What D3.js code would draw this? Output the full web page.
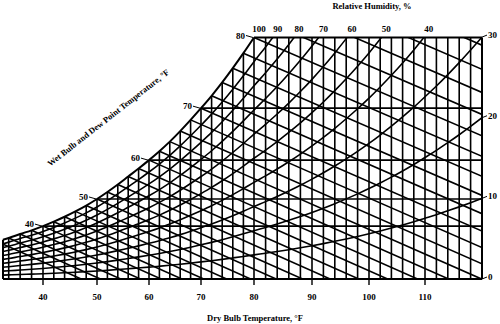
<!DOCTYPE html>
<html><head><meta charset="utf-8">
<script src="https://cdn.jsdelivr.net/npm/d3@7"></script>
<style>
body{margin:0;background:#fff}
svg{display:block}
text{font-family:"Liberation Serif","DejaVu Serif",serif;font-weight:bold;fill:#000}
</style>
</head><body><svg id="c" width="500" height="324"></svg>
<script>
// ---- data ----
const satTemps    = [32,34,36,38,40,42,44,46,48,50,52,54,56,58,60,62,64,66,68,70,72,74,76,78,80,82,84,86,88,90,92,94,96,98,100,102,104,106,108,110,112,114,116,118,120];
const satPressure = [0.160,0.175,0.192,0.208,0.226,0.245,0.266,0.289,0.314,0.342,0.372,0.404,0.438,0.472,0.508,0.546,0.587,0.632,0.680,0.730,0.783,0.840,0.901,0.965,1.032,1.102,1.175,1.253,1.335,1.422,1.513,1.610,1.712,1.819,1.932,2.051,2.176,2.308,2.447,2.596,2.749,2.912,3.082,3.261,3.446];
const dryBulbLines = [34,36,38,40,42,44,46,48,50,52,54,56,58,60,62,64,66,68,70,72,74,76,78,80,82,84,86,88,90,92,94,96,98,100,102,104,106,108,110,112,114,116,118];
const wetBulbTemps = [32,34,36,38,40,42,44,46,48,50,52,54,56,58,60,62,64,66,68,70,72,74,76,78,80,82,84,86,88];
const rhLevels = [90,80,70,60,50,40,30,20,10];
const dewPointLines = [40,50,60,70];
const dewPointLabels = [40,50,60,70,80];
const dryBulbTicks = [40,50,60,70,80,90,100,110];
const topRhLabels = [100,90,80,70,60,50,40];
const rightRhLabels = [30,20,10,0];
const chartMinT = 33, chartMaxT = 120, topPressure = 1.032;
const wetBulbSlope = 0.0105; // inHg per °F

// ---- scales ----
const x = d3.scaleLinear()
  .domain([33,40,50,60,70,80,90,100,110,120])
  .range([3,43,97,149,201,254,312,369,425,482]);
const y = d3.scaleLinear().domain([0, topPressure]).range([279, 37.5]);
const es = d3.scaleLinear().domain(satTemps).range(satPressure);
const tsat = d3.scaleLinear().domain(satPressure).range(satTemps);

const svg = d3.select("#c");
const line = d3.line().x(d=>x(d[0])).y(d=>y(d[1]));
const curve = d3.line().x(d=>x(d[0])).y(d=>y(d[1])).curve(d3.curveMonotoneX);

// saturation curve points
const satPts = [[chartMinT, es(chartMinT)]].concat(
  satTemps.filter(t=>t>chartMinT && t<=80).map(t=>[t, es(t)]));

// clip region
const clipPts = satPts.concat([[chartMaxT, topPressure],[chartMaxT,0],[chartMinT,0]]);
svg.append("clipPath").attr("id","area").append("path")
  .attr("d", line(clipPts)+"Z");

const g = svg.append("g").attr("clip-path","url(#area)")
  .attr("stroke","#000").attr("fill","none").attr("stroke-width",1.6);

// dry bulb verticals
g.selectAll(".db").data(dryBulbLines).join("line")
  .attr("x1",d=>x(d)).attr("x2",d=>x(d)).attr("y1",y(0)).attr("y2",y(topPressure));

// dew point horizontals
g.selectAll(".dp").data(dewPointLines).join("line")
  .attr("x1",x(chartMinT)).attr("x2",x(chartMaxT))
  .attr("y1",d=>y(es(d))).attr("y2",d=>y(es(d)));

// RH curves
const rhTemps = [chartMinT].concat(satTemps.filter(t=>t>chartMinT));
g.selectAll(".rh").data(rhLevels).join("path")
  .attr("d", r => curve(rhTemps.map(t=>[t, r/100*es(t)])));

// wet bulb lines
g.selectAll(".wb").data(wetBulbTemps).join("path")
  .attr("d", w => line([[w, es(w)], [chartMaxT, es(w) - wetBulbSlope*(chartMaxT-w)]]));

// boundary
const b = svg.append("g").attr("stroke","#000").attr("fill","none").attr("stroke-width",2);
b.append("path").attr("d", curve(satPts));
b.append("line").attr("x1",x(80)).attr("x2",x(chartMaxT)).attr("y1",y(topPressure)).attr("y2",y(topPressure));
b.append("line").attr("x1",x(chartMaxT)).attr("x2",x(chartMaxT)).attr("y1",y(topPressure)).attr("y2",y(0));
b.append("line").attr("x1",x(chartMinT)).attr("x2",x(chartMaxT)).attr("y1",y(0)).attr("y2",y(0));
b.append("line").attr("x1",x(chartMinT)).attr("x2",x(chartMinT)).attr("y1",y(es(chartMinT))).attr("y2",y(0));

// bottom ticks + labels
b.selectAll(".tk").data(dryBulbTicks).join("line")
  .attr("x1",d=>x(d)).attr("x2",d=>x(d)).attr("y1",y(0)).attr("y2",y(0)+6).attr("stroke-width",1.4);
svg.selectAll(".tl").data(dryBulbTicks).join("text")
  .attr("x",d=>x(d)).attr("y",300).attr("text-anchor","middle").attr("font-size",9).text(d=>d);
svg.append("text").attr("x",255).attr("y",321).attr("text-anchor","middle").attr("font-size",8.5)
  .text("Dry Bulb Temperature, °F");

// top RH labels
svg.append("text").attr("x",372).attr("y",9).attr("text-anchor","middle").attr("font-size",8.5)
  .text("Relative Humidity, %");
svg.selectAll(".trh").data(topRhLabels).join("text")
  .attr("x",d=>x(tsat(topPressure/(d/100)))+5).attr("y",32).attr("text-anchor","middle").attr("font-size",9)
  .text(d=>d);

// right RH labels
svg.selectAll(".rrh").data(rightRhLabels).join("line")
  .attr("x1",x(chartMaxT)).attr("x2",x(chartMaxT)+5)
  .attr("y1",d=>y(d/100*es(chartMaxT))).attr("y2",d=>y(d/100*es(chartMaxT))-2)
  .attr("stroke","#000").attr("stroke-width",1);
svg.selectAll(".rrt").data(rightRhLabels).join("text")
  .attr("x",x(chartMaxT)+6).attr("y",d=>y(d/100*es(chartMaxT))+1).attr("font-size",9)
  .text(d=>d);

// dew point / wet bulb labels
dewPointLabels.forEach(t=>{
  const px = x(t), py = y(es(t));
  svg.append("line").attr("x1",px-8).attr("x2",px-1).attr("y1",py-2).attr("y2",py)
    .attr("stroke","#000").attr("stroke-width",1);
  svg.append("text").attr("x",px-9).attr("y",py+1).attr("text-anchor","end").attr("font-size",9).text(t);
});
svg.append("text").attr("transform","translate(110,120) rotate(-38)")
  .attr("text-anchor","middle").attr("font-size",8.5)
  .text("Wet Bulb and Dew Point Temperature, °F");
</script>
</body></html>
